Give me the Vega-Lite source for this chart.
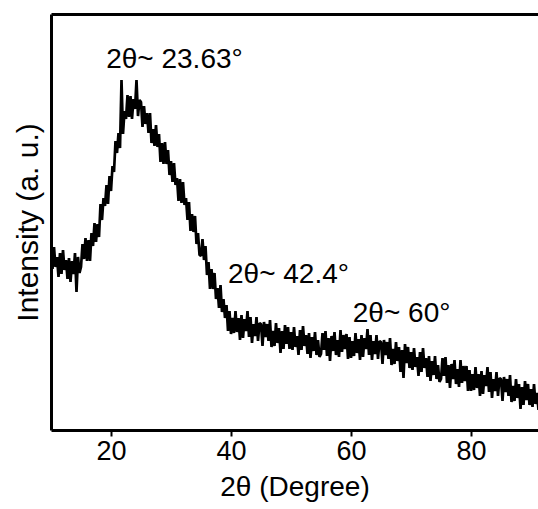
{
  "$schema": "https://vega.github.io/schema/vega-lite/v6.json",
  "width": 487,
  "height": 416,
  "autosize": "none",
  "padding": {"left": 51, "top": 14, "right": 0, "bottom": 79},
  "background": "white",
  "config": {
    "view": {"stroke": null},
    "axis": {"grid": false, "domainColor": "black", "domainWidth": 3, "tickColor": "black", "labelColor": "black", "titleColor": "black", "labelFont": "Liberation Sans", "titleFont": "Liberation Sans", "titleFontWeight": "normal"}
  },
  "layer": [
    {
      "data": {"values": [
        {"x":10,"y":180},{"x":10.25,"y":161},{"x":10.5,"y":183},{"x":10.75,"y":163},
        {"x":11,"y":173},{"x":11.25,"y":153},{"x":11.5,"y":177},{"x":11.75,"y":156},
        {"x":12,"y":180},{"x":12.25,"y":160},{"x":12.5,"y":170},{"x":12.75,"y":151},
        {"x":13,"y":172},{"x":13.25,"y":148},{"x":13.5,"y":169},{"x":13.75,"y":156},
        {"x":14,"y":177},{"x":14.25,"y":138},{"x":14.5,"y":173},{"x":14.75,"y":157},
        {"x":15,"y":163},{"x":15.25,"y":186},{"x":15.5,"y":171},{"x":15.75,"y":192},
        {"x":16,"y":169},{"x":16.25,"y":190},{"x":16.5,"y":169},{"x":16.75,"y":197},
        {"x":17,"y":184},{"x":17.25,"y":207},{"x":17.5,"y":188},{"x":17.75,"y":206},
        {"x":18,"y":193},{"x":18.25,"y":226},{"x":18.5,"y":210},{"x":18.75,"y":232},
        {"x":19,"y":224},{"x":19.25,"y":245},{"x":19.5,"y":226},{"x":19.75,"y":254},
        {"x":20,"y":239},{"x":20.25,"y":264},{"x":20.5,"y":258},{"x":20.75,"y":289},
        {"x":21,"y":277},{"x":21.25,"y":297},{"x":21.5,"y":282},{"x":21.75,"y":350},
        {"x":22,"y":296},{"x":22.25,"y":319},{"x":22.5,"y":311},{"x":22.75,"y":335},
        {"x":23,"y":313},{"x":23.25,"y":334},{"x":23.5,"y":311},{"x":23.75,"y":331},
        {"x":24,"y":321},{"x":24.25,"y":350},{"x":24.5,"y":314},{"x":24.75,"y":330},
        {"x":25,"y":328},{"x":25.25,"y":303},{"x":25.5,"y":324},{"x":25.75,"y":306},
        {"x":26,"y":317},{"x":26.25,"y":297},{"x":26.5,"y":317},{"x":26.75,"y":287},
        {"x":27,"y":301},{"x":27.25,"y":284},{"x":27.5,"y":305},{"x":27.75,"y":283},
        {"x":28,"y":296},{"x":28.25,"y":268},{"x":28.5,"y":287},{"x":28.75,"y":266},
        {"x":29,"y":288},{"x":29.25,"y":266},{"x":29.5,"y":280},{"x":29.75,"y":255},
        {"x":30,"y":269},{"x":30.25,"y":248},{"x":30.5,"y":267},{"x":30.75,"y":245},
        {"x":31,"y":252},{"x":31.25,"y":229},{"x":31.5,"y":251},{"x":31.75,"y":227},
        {"x":32,"y":248},{"x":32.25,"y":225},{"x":32.5,"y":232},{"x":32.75,"y":210},
        {"x":33,"y":228},{"x":33.25,"y":199},{"x":33.5,"y":216},{"x":33.75,"y":198},
        {"x":34,"y":214},{"x":34.25,"y":186},{"x":34.5,"y":197},{"x":34.75,"y":175},
        {"x":35,"y":174},{"x":35.25,"y":191},{"x":35.5,"y":170},{"x":35.75,"y":184},
        {"x":36,"y":155},{"x":36.25,"y":168},{"x":36.5,"y":141},{"x":36.75,"y":161},
        {"x":37,"y":141},{"x":37.25,"y":157},{"x":37.5,"y":131},{"x":37.75,"y":142},
        {"x":38,"y":122},{"x":38.25,"y":145},{"x":38.5,"y":118},{"x":38.75,"y":131},
        {"x":39,"y":112},{"x":39.25,"y":125},{"x":39.5,"y":99},{"x":39.75,"y":119},
        {"x":40,"y":96},{"x":40.25,"y":112},{"x":40.5,"y":97},{"x":40.75,"y":119},
        {"x":41,"y":98},{"x":41.25,"y":112},{"x":41.5,"y":90},{"x":41.75,"y":115},
        {"x":42,"y":92},{"x":42.25,"y":111},{"x":42.5,"y":99},{"x":42.75,"y":119},
        {"x":43,"y":93},{"x":43.25,"y":113},{"x":43.5,"y":87},{"x":43.75,"y":106},
        {"x":44,"y":94},{"x":44.25,"y":113},{"x":44.5,"y":89},{"x":44.75,"y":107},
        {"x":45,"y":106},{"x":45.25,"y":84},{"x":45.5,"y":108},{"x":45.75,"y":93},
        {"x":46,"y":106},{"x":46.25,"y":89},{"x":46.5,"y":110},{"x":46.75,"y":83},
        {"x":47,"y":99},{"x":47.25,"y":84},{"x":47.5,"y":107},{"x":47.75,"y":87},
        {"x":48,"y":102},{"x":48.25,"y":77},{"x":48.5,"y":99},{"x":48.75,"y":81},
        {"x":49,"y":105},{"x":49.25,"y":86},{"x":49.5,"y":103},{"x":49.75,"y":81},
        {"x":50,"y":98},{"x":50.25,"y":80},{"x":50.5,"y":103},{"x":50.75,"y":83},
        {"x":51,"y":94},{"x":51.25,"y":75},{"x":51.5,"y":100},{"x":51.75,"y":80},
        {"x":52,"y":104},{"x":52.25,"y":84},{"x":52.5,"y":95},{"x":52.75,"y":76},
        {"x":53,"y":97},{"x":53.25,"y":72},{"x":53.5,"y":93},{"x":53.75,"y":79},
        {"x":54,"y":98},{"x":54.25,"y":75},{"x":54.5,"y":90},{"x":54.75,"y":73},
        {"x":55,"y":76},{"x":55.25,"y":97},{"x":55.5,"y":80},{"x":55.75,"y":99},
        {"x":56,"y":74},{"x":56.25,"y":92},{"x":56.5,"y":69},{"x":56.75,"y":94},
        {"x":57,"y":79},{"x":57.25,"y":98},{"x":57.5,"y":75},{"x":57.75,"y":90},
        {"x":58,"y":73},{"x":58.25,"y":100},{"x":58.5,"y":78},{"x":58.75,"y":95},
        {"x":59,"y":81},{"x":59.25,"y":96},{"x":59.5,"y":71},{"x":59.75,"y":93},
        {"x":60,"y":72},{"x":60.25,"y":89},{"x":60.5,"y":74},{"x":60.75,"y":97},
        {"x":61,"y":77},{"x":61.25,"y":91},{"x":61.5,"y":70},{"x":61.75,"y":95},
        {"x":62,"y":73},{"x":62.25,"y":92},{"x":62.5,"y":81},{"x":62.75,"y":101},
        {"x":63,"y":75},{"x":63.25,"y":95},{"x":63.5,"y":70},{"x":63.75,"y":89},
        {"x":64,"y":76},{"x":64.25,"y":95},{"x":64.5,"y":71},{"x":64.75,"y":89},
        {"x":65,"y":88},{"x":65.25,"y":66},{"x":65.5,"y":90},{"x":65.75,"y":75},
        {"x":66,"y":88},{"x":66.25,"y":71},{"x":66.5,"y":92},{"x":66.75,"y":65},
        {"x":67,"y":81},{"x":67.25,"y":66},{"x":67.5,"y":88},{"x":67.75,"y":69},
        {"x":68,"y":83},{"x":68.25,"y":58},{"x":68.5,"y":80},{"x":68.75,"y":52},
        {"x":69,"y":86},{"x":69.25,"y":67},{"x":69.5,"y":83},{"x":69.75,"y":62},
        {"x":70,"y":78},{"x":70.25,"y":60},{"x":70.5,"y":82},{"x":70.75,"y":63},
        {"x":71,"y":73},{"x":71.25,"y":54},{"x":71.5,"y":78},{"x":71.75,"y":58},
        {"x":72,"y":82},{"x":72.25,"y":62},{"x":72.5,"y":72},{"x":72.75,"y":53},
        {"x":73,"y":74},{"x":73.25,"y":49},{"x":73.5,"y":69},{"x":73.75,"y":55},
        {"x":74,"y":74},{"x":74.25,"y":51},{"x":74.5,"y":65},{"x":74.75,"y":48},
        {"x":75,"y":51},{"x":75.25,"y":72},{"x":75.5,"y":54},{"x":75.75,"y":73},
        {"x":76,"y":47},{"x":76.25,"y":65},{"x":76.5,"y":42},{"x":76.75,"y":66},
        {"x":77,"y":51},{"x":77.25,"y":70},{"x":77.5,"y":46},{"x":77.75,"y":61},
        {"x":78,"y":43},{"x":78.25,"y":70},{"x":78.5,"y":47},{"x":78.75,"y":64},
        {"x":79,"y":49},{"x":79.25,"y":64},{"x":79.5,"y":39},{"x":79.75,"y":60},
        {"x":80,"y":39},{"x":80.25,"y":56},{"x":80.5,"y":40},{"x":80.75,"y":63},
        {"x":81,"y":42},{"x":81.25,"y":56},{"x":81.5,"y":34},{"x":81.75,"y":59},
        {"x":82,"y":36},{"x":82.25,"y":55},{"x":82.5,"y":44},{"x":82.75,"y":63},
        {"x":83,"y":38},{"x":83.25,"y":58},{"x":83.5,"y":32},{"x":83.75,"y":51},
        {"x":84,"y":39},{"x":84.25,"y":58},{"x":84.5,"y":34},{"x":84.75,"y":52},
        {"x":85,"y":51},{"x":85.25,"y":29},{"x":85.5,"y":53},{"x":85.75,"y":38},
        {"x":86,"y":51},{"x":86.25,"y":34},{"x":86.5,"y":55},{"x":86.75,"y":28},
        {"x":87,"y":44},{"x":87.25,"y":29},{"x":87.5,"y":51},{"x":87.75,"y":32},
        {"x":88,"y":46},{"x":88.25,"y":21},{"x":88.5,"y":43},{"x":88.75,"y":25},
        {"x":89,"y":49},{"x":89.25,"y":30},{"x":89.5,"y":46},{"x":89.75,"y":25},
        {"x":90,"y":41},{"x":90.25,"y":23},{"x":90.5,"y":46},{"x":90.75,"y":26},
        {"x":91,"y":37},{"x":91.25,"y":20}
      ]},
      "mark": {"type": "line", "color": "black", "strokeWidth": 2.7, "strokeJoin": "bevel", "clip": true},
      "encoding": {
        "x": {"field": "x", "type": "quantitative", "scale": {"domain": [10, 91.1667], "nice": false, "zero": false},
          "axis": {"orient": "bottom", "values": [20, 40, 60, 80], "tickSize": 6, "tickWidth": 2, "labelFontSize": 27, "labelPadding": 2, "title": "2θ (Degree)", "titleFontSize": 28, "titlePadding": 9}},
        "y": {"field": "y", "type": "quantitative", "scale": {"domain": [0, 416], "nice": false, "zero": false},
          "axis": {"orient": "left", "ticks": false, "labels": false, "title": "Intensity (a. u.)", "titleFontSize": 30, "titlePadding": 8}}
      }
    },
    {
      "data": {"values": [
        {"label": "2θ~ 23.63°", "lx": 19.2, "ly": 362},
        {"label": "2θ~ 42.4°", "lx": 39.5, "ly": 147},
        {"label": "2θ~ 60°", "lx": 60.3, "ly": 108}
      ]},
      "mark": {"type": "text", "align": "left", "baseline": "alphabetic", "font": "Liberation Sans", "fontSize": 28, "color": "black"},
      "encoding": {
        "x": {"field": "lx", "type": "quantitative", "axis": {"orient": "top", "domain": true, "ticks": false, "labels": false, "title": null}},
        "y": {"field": "ly", "type": "quantitative", "axis": null},
        "text": {"field": "label"}
      }
    }
  ],
  "resolve": {"axis": {"x": "independent", "y": "independent"}}
}
